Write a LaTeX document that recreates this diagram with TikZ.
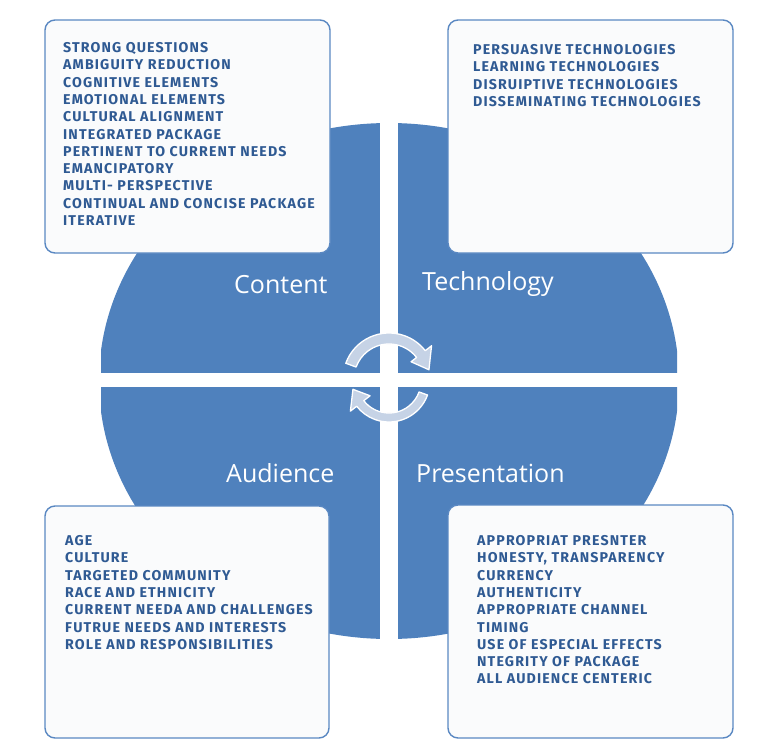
\documentclass[tikz,border=0pt]{standalone}
\usepackage{fontspec}
\setmainfont{Open Sans}
\newfontfamily\listfont{Fira Sans}[LetterSpace=8]

\definecolor{blob}{HTML}{4F81BD}
\definecolor{boxline}{HTML}{5A88C2}
\definecolor{boxfill}{HTML}{FAFBFC}
\definecolor{itemblue}{HTML}{2F5A93}
\definecolor{arrowfill}{HTML}{C6D3E6}

\begin{document}
\begin{tikzpicture}[x=1pt,y=-1pt,
  panel/.style={draw=boxline, line width=1.4pt, fill=boxfill, rounded corners=10pt},
  item/.style={anchor=base west, inner sep=0pt, text=itemblue,
    font=\listfont\bfseries\fontsize{14.2}{15}\selectfont},
  quad/.style={anchor=base west, inner sep=0pt, text=white,
    font=\fontsize{25}{30}\selectfont},
  cyc/.style={fill=arrowfill, draw=white, line width=1.3pt, line join=round}]

  % Page size
  \useasboundingbox (0,0) rectangle (764,747);

  % Blue oval, cut flat at both sides
  \begin{scope}
    \clip (101,100) rectangle (677,660);
    \fill[blob] (389,381) ellipse [x radius=290, y radius=258];
  \end{scope}

  % White cross splitting the oval
  \fill[white] (380,100) rectangle (398,660);
  \fill[white] (90,373) rectangle (690,387);

  % Four text panels
  \draw[panel] (45,20) rectangle (330,253);
  \draw[panel] (448,20) rectangle (733,253);
  \draw[panel] (45,506) rectangle (329,738);
  \draw[panel] (448,505) rectangle (733,738);

  % Quadrant titles
  \node[quad] (content) at (234,293) {Content};
  \node[quad] (technology) at (422,290) {Technology};
  \node[quad] (audience) at (226,482) {Audience};
  \node[quad] (presentation) at (416,482) {Presentation};

  % Cycle arrows in the middle
  \begin{scope}[shift={(389,379)}]
    \filldraw[cyc] (200:46) arc[start angle=200, end angle=322, radius=46]
      -- (322:54) -- (347:41) -- (322:28) -- (322:35)
      arc[start angle=322, end angle=200, radius=35] -- cycle;
  \end{scope}
  \begin{scope}[shift={(389,381)}]
    \filldraw[cyc] (20:41) arc[start angle=20, end angle=142, radius=41]
      -- (142:49) -- (167:37) -- (142:24) -- (142:32)
      arc[start angle=142, end angle=20, radius=32] -- cycle;
  \end{scope}

  % Content items
  \foreach \t [count=\i] in {STRONG QUESTIONS, AMBIGUITY REDUCTION,
      COGNITIVE ELEMENTS, EMOTIONAL ELEMENTS, CULTURAL ALIGNMENT,
      INTEGRATED PACKAGE, PERTINENT TO CURRENT NEEDS, EMANCIPATORY,
      MULTI- PERSPECTIVE, CONTINUAL AND CONCISE PACKAGE, ITERATIVE}
    \node[item] (c\i) at (63,52.5+17.3*\i-17.3) {\t};

  % Technology items
  \foreach \t [count=\i] in {PERSUASIVE TECHNOLOGIES, LEARNING TECHNOLOGIES,
      DISRUIPTIVE TECHNOLOGIES, DISSEMINATING TECHNOLOGIES}
    \node[item] (t\i) at (473,54.5+17.3*\i-17.3) {\t};

  % Audience items
  \foreach \t [count=\i] in {AGE, CULTURE, TARGETED COMMUNITY,
      RACE AND ETHNICITY, CURRENT NEEDA AND CHALLENGES,
      FUTRUE NEEDS AND INTERESTS, ROLE AND RESPONSIBILITIES}
    \node[item] (a\i) at (65,545.5+17.3*\i-17.3) {\t};

  % Presentation items
  \foreach \t [count=\i] in {APPROPRIAT PRESNTER, {HONESTY, TRANSPARENCY},
      CURRENCY, AUTHENTICITY, APPROPRIATE CHANNEL, TIMING,
      USE OF ESPECIAL EFFECTS, NTEGRITY OF PACKAGE, ALL AUDIENCE CENTERIC}
    \node[item] (p\i) at (477,545.5+17.3*\i-17.3) {\t};

\end{tikzpicture}
\end{document}
